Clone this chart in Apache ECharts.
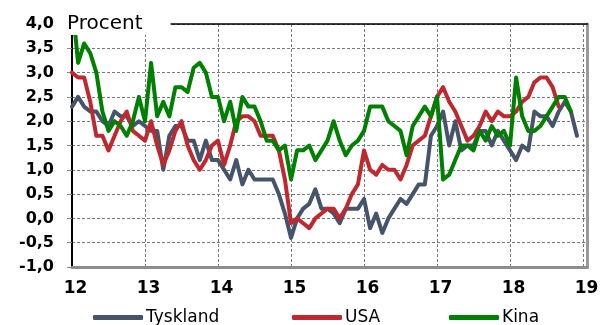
<!DOCTYPE html>
<html>
<head>
<meta charset="utf-8">
<script src="https://cdn.jsdelivr.net/npm/echarts@6/dist/echarts.min.js"></script>
<style>
  html, body { margin: 0; padding: 0; background: #fff; }
  #chart { width: 603px; height: 325px; }
</style>
</head>
<body>
<div id="chart"></div>
<script>
// Monthly inflation, % y/y, starting January 2012
const yearTicks = ['12', '13', '14', '15', '16', '17', '18', '19'];

const tyskland = [
  2.3, 2.5, 2.3, 2.2, 2.2, 2.0, 1.9, 2.2, 2.1, 2.1, 1.9, 2.0,
  1.9, 1.8, 1.8, 1.0, 1.7, 1.9, 1.9, 1.6, 1.6, 1.2, 1.6, 1.2,
  1.2, 1.0, 0.8, 1.2, 0.7, 1.0, 0.8, 0.8, 0.8, 0.8, 0.5, 0.1,
  -0.4, 0.0, 0.2, 0.3, 0.6, 0.2, 0.2, 0.1, -0.1, 0.2, 0.2, 0.2,
  0.4, -0.2, 0.1, -0.3, 0.0, 0.2, 0.4, 0.3, 0.5, 0.7, 0.7, 1.7,
  1.9, 2.2, 1.5, 2.0, 1.4, 1.5, 1.5, 1.8, 1.8, 1.5, 1.8, 1.6,
  1.4, 1.2, 1.5, 1.4, 2.2, 2.1, 2.1, 1.9, 2.2, 2.4, 2.2, 1.7
];

const usa = [
  3.0, 2.9, 2.9, 2.4, 1.7, 1.7, 1.4, 1.7, 2.0, 2.2, 1.8, 1.7,
  1.6, 2.0, 1.5, 1.1, 1.4, 1.8, 2.0, 1.5, 1.2, 1.0, 1.2, 1.5,
  1.6, 1.1, 1.5, 2.0, 2.1, 2.1, 2.0, 1.7, 1.7, 1.7, 1.4, 0.8,
  -0.1, 0.0, -0.1, -0.2, 0.0, 0.1, 0.2, 0.2, 0.0, 0.2, 0.5, 0.7,
  1.4, 1.0, 0.9, 1.1, 1.0, 1.0, 0.8, 1.1, 1.5, 1.6, 1.7, 2.1,
  2.5, 2.7, 2.4, 2.2, 1.9, 1.6, 1.7, 1.9, 2.2, 2.0, 2.2, 2.1,
  2.1, 2.2, 2.4, 2.5, 2.8, 2.9, 2.9, 2.7, 2.3
];

const kina = [
  4.5, 3.2, 3.6, 3.4, 3.0, 2.2, 1.8, 2.0, 1.9, 1.7, 2.0, 2.5,
  2.0, 3.2, 2.1, 2.4, 2.1, 2.7, 2.7, 2.6, 3.1, 3.2, 3.0, 2.5,
  2.5, 2.0, 2.4, 1.8, 2.5, 2.3, 2.3, 2.0, 1.6, 1.6, 1.4, 1.5,
  0.8, 1.4, 1.4, 1.5, 1.2, 1.4, 1.6, 2.0, 1.6, 1.3, 1.5, 1.6,
  1.8, 2.3, 2.3, 2.3, 2.0, 1.9, 1.8, 1.3, 1.9, 2.1, 2.3, 2.1,
  2.5, 0.8, 0.9, 1.2, 1.5, 1.5, 1.4, 1.8, 1.6, 1.9, 1.7, 1.8,
  1.5, 2.9, 2.1, 1.8, 1.8, 1.9, 2.1, 2.3, 2.5, 2.5, 2.2
];

const seriesNames = ['Tyskland', 'USA', 'Kina'];
const seriesColors = ['#45546a', '#c0282f', '#008000'];
const seriesValues = [tyskland, usa, kina];

const FONT = 'DejaVu Sans';
const monthsMax = 84.7;

const toPoints = arr => arr.map((v, i) => [i, v]);

const gridLine = { show: true, lineStyle: { color: '#7a7a7a', width: 1, type: [3, 2] } };

const chart = echarts.init(document.getElementById('chart'), null, { renderer: 'canvas' });

chart.setOption({
  animation: false,
  backgroundColor: '#ffffff',
  title: {
    text: 'Procent',
    left: 62,
    top: 10,
    backgroundColor: '#ffffff',
    padding: [4, 28, 1, 5],
    z: 20,
    textStyle: { fontFamily: FONT, fontSize: 20, fontWeight: 'normal', color: '#000' }
  },
  legend: seriesNames.map((name, k) => ({
    data: [name],
    left: [88, 287, 444][k],
    top: 304,
    icon: 'roundRect',
    itemWidth: 50,
    itemHeight: 5,
    itemGap: 0,
    textStyle: { fontFamily: FONT, fontSize: 17, color: '#000', padding: [0, 0, 0, -2] }
  })),
  grid: { left: 72, right: 15.7, top: 24, bottom: 58, containLabel: false },
  xAxis: [
    {
      type: 'value',
      min: 0,
      max: monthsMax,
      interval: 12,
      axisLine: { show: true, onZero: false, lineStyle: { color: '#8c8c8c', width: 3 } },
      axisTick: { show: false },
      splitLine: gridLine,
      axisLabel: {
        margin: 13,
        fontFamily: FONT,
        fontSize: 17,
        fontWeight: 'bold',
        color: '#000',
        padding: [0, 0, 0, 7],
        showMaxLabel: false,
        formatter: v => (Math.abs(v % 12) < 1e-6 ? yearTicks[Math.round(v / 12)] : '')
      }
    },
    {
      // top frame line
      type: 'value',
      position: 'top',
      min: 0,
      max: monthsMax,
      axisLine: { show: true, onZero: false, lineStyle: { color: '#000', width: 1.5 } },
      axisTick: { show: false },
      axisLabel: { show: false },
      splitLine: { show: false }
    }
  ],
  yAxis: [
    {
      type: 'value',
      min: -1,
      max: 4,
      interval: 0.5,
      axisLine: { show: true, onZero: false, lineStyle: { color: '#000', width: 2 } },
      axisTick: { show: true, length: 5, lineStyle: { color: '#888', width: 1 } },
      splitLine: gridLine,
      axisLabel: {
        margin: 18,
        fontFamily: FONT,
        fontSize: 16,
        fontWeight: 'bold',
        color: '#000',
        formatter: v => v.toFixed(1).replace('.', ',')
      }
    },
    {
      // right frame line
      type: 'value',
      position: 'right',
      min: -1,
      max: 4,
      interval: 0.5,
      axisLine: { show: true, onZero: false, lineStyle: { color: '#9a9a9a', width: 3 } },
      axisTick: { show: false },
      axisLabel: { show: false },
      splitLine: { show: false }
    }
  ],
  series: seriesNames.map((name, k) => ({
    name: name,
    type: 'line',
    xAxisIndex: 0,
    yAxisIndex: 0,
    data: toPoints(seriesValues[k]),
    showSymbol: false,
    symbol: 'none',
    clip: true,
    color: seriesColors[k],
    lineStyle: { color: seriesColors[k], width: 4, cap: 'round', join: 'round' },
    z: 3 + k
  }))
});
</script>
</body>
</html>
